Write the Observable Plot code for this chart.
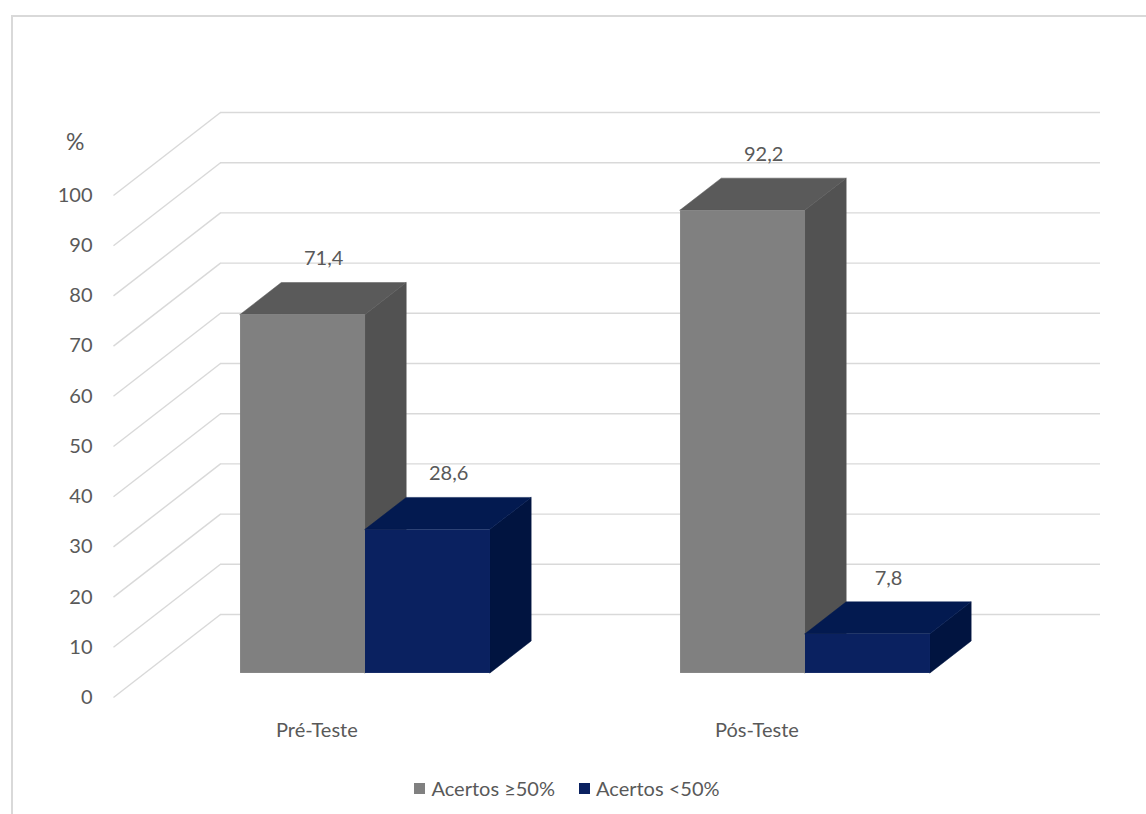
<!DOCTYPE html>
<html>
<head>
<meta charset="utf-8">
<script src="https://cdn.jsdelivr.net/npm/d3@7"></script>
<script src="https://cdn.jsdelivr.net/npm/@observablehq/plot@0.6"></script>
<style>
  html, body { margin: 0; padding: 0; background: #fff; }
  #wrap { position: relative; width: 1146px; height: 814px; overflow: hidden; font-family: Lato, sans-serif; }
  #frame { position: absolute; left: 11px; top: 15px; width: 1300px; height: 1000px;
           border-left: 2px solid #d9d9d9; border-top: 2px solid #d9d9d9; }
  #chart { position: absolute; left: 0; top: 0; }
  #legend { position: absolute; top: 776px; left: 0; width: 1146px; display: flex; justify-content: center;
            gap: 24px; font-size: 20px; line-height: 24px; color: #595959; padding-right: 12px; box-sizing: border-box; }
  #legend span.item { display: flex; align-items: center; gap: 6px; }
  #legend span.sw { width: 11px; height: 11px; display: inline-block; }
</style>
</head>
<body>
<div id="wrap">
  <div id="frame"></div>
  <div id="chart"></div>
  <div id="legend"></div>
</div>
<script>
// ---- data ----
const categories = ["Pré-Teste", "Pós-Teste"];
const series = ["Acertos ≥50%", "Acertos <50%"];
const acertosAcima = [71.4, 92.2];   // Acertos ≥50%
const acertosAbaixo = [28.6, 7.8];   // Acertos <50%
const yTicks = [0, 10, 20, 30, 40, 50, 60, 70, 80, 90, 100];

// ---- styling / layout ----
const colors = [
  {front: "#808080", top: "#5a5a5a", side: "#525252"},
  {front: "#0a2160", top: "#031a50", side: "#011440"}
];
const KX = 0.2432, KY = 16.53;        // full-depth perspective shift (x units, y units)
const Z_FRONT = 0.29, Z_BACK = 0.675; // depth of bar front / back faces
const BAR_W = 0.284;
const X_LEFT = -0.5023, X_RIGHT = 1.741;
const dX = (Z_BACK - Z_FRONT) * KX, dY = (Z_BACK - Z_FRONT) * KY;
const fmt = v => v.toFixed(1).replace(".", ",");

const seriesValues = [acertosAcima, acertosAbaixo];
const bars = [];
seriesValues.forEach((vals, s) => {
  vals.forEach((v, i) => {
    const xl = i + Z_FRONT * KX - BAR_W + s * BAR_W;
    const b = Z_FRONT * KY;
    bars.push({id: `${s}-${i}`, s, i, v, xl, xr: xl + BAR_W, b, t: b + v});
  });
});
const tops = bars.flatMap(d => [
  {id: d.id, s: d.s, x: d.xl, y1: d.t, y2: d.t},
  {id: d.id, s: d.s, x: d.xl + dX, y1: d.t, y2: d.t + dY},
  {id: d.id, s: d.s, x: d.xr, y1: d.t, y2: d.t + dY},
  {id: d.id, s: d.s, x: d.xr + dX, y1: d.t + dY, y2: d.t + dY}
]);
const sides = bars.flatMap(d => [
  {id: d.id, s: d.s, x: d.xr, y1: d.b, y2: d.t},
  {id: d.id, s: d.s, x: d.xr + dX, y1: d.b + dY, y2: d.t + dY}
]);

const barMarks = [0, 1].flatMap(s => [
  Plot.areaY(sides.filter(d => d.s === s), {x: "x", y1: "y1", y2: "y2", z: "id", fill: colors[s].side, stroke: colors[s].side, strokeWidth: 0.5}),
  Plot.areaY(tops.filter(d => d.s === s), {x: "x", y1: "y1", y2: "y2", z: "id", fill: colors[s].top, stroke: colors[s].top, strokeWidth: 0.5}),
  Plot.rect(bars.filter(d => d.s === s), {x1: "xl", x2: "xr", y1: "b", y2: "t", fill: colors[s].front})
]);

const chart = Plot.plot({
  width: 1146,
  height: 770,
  marginLeft: 100, marginRight: 0, marginTop: 0, marginBottom: 0,
  style: {background: "transparent", color: "#595959", fontFamily: "Lato, sans-serif", fontSize: "20px", overflow: "visible"},
  x: {type: "linear", domain: [-0.5318, 1.8455], axis: null, label: null},
  y: {type: "linear", domain: [-14.54, 138.84], label: null},
  marks: [
    Plot.link(yTicks, {x1: X_LEFT, y1: d => d, x2: X_LEFT + KX, y2: d => d + KY, stroke: "#d9d9d9", strokeWidth: 1.4}),
    Plot.ruleY(yTicks, {y: d => d + KY, x1: X_LEFT + KX, x2: X_RIGHT, stroke: "#d9d9d9", strokeWidth: 1.4}),
    Plot.axisY(yTicks, {tickSize: 0, tickPadding: 8, fontSize: 20, label: null}),
    Plot.text(["%"], {x: X_LEFT - 0.087, y: 110.5, text: d => d, fontSize: 23, fill: "#595959"}),
    ...barMarks,
    Plot.text(bars, {x: d => (d.xl + d.xr) / 2 + dX / 2, y: d => d.t + dY, dy: -24, text: d => fmt(d.v), fontSize: 20, fill: "#595959"}),
    Plot.text(categories, {x: (d, i) => i - 0.04, y: -6.6, text: d => d, fontSize: 20, fill: "#595959"})
  ]
});
document.getElementById("chart").appendChild(chart);

const legend = document.getElementById("legend");
series.forEach((name, s) => {
  const item = document.createElement("span");
  item.className = "item";
  const sw = document.createElement("span");
  sw.className = "sw";
  sw.style.background = colors[s].front;
  item.appendChild(sw);
  item.appendChild(document.createTextNode(name));
  legend.appendChild(item);
});
</script>
</body>
</html>
